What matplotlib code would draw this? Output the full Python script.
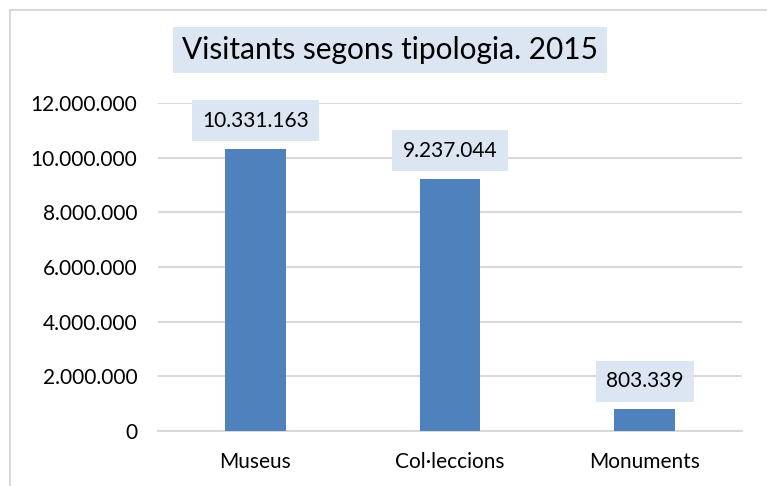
import matplotlib.pyplot as plt
from matplotlib.ticker import FuncFormatter
from matplotlib.lines import Line2D

categories = ['Museus', 'Col·leccions', 'Monuments']
visitants = [10331163, 9237044, 803339]
title = 'Visitants segons tipologia. 2015'

plt.rcParams['font.family'] = ['Lato', 'DejaVu Sans']

bar_color = '#4F81BD'
box_color = '#DCE6F2'
grid_color = '#D9D9D9'


def punts(v, pos=None):
    return '{:,.0f}'.format(v).replace(',', '.')


fig = plt.figure(figsize=(7.67, 4.86), dpi=100)
ax = fig.add_axes([158 / 767, 55 / 486, 584 / 767, 328 / 486])

x = range(len(categories))
ax.bar(x, visitants, width=0.31, color=bar_color, zorder=3)
ax.set_xlim(-0.5, len(categories) - 0.5)
ax.set_ylim(0, 12000000)
ax.set_yticks(range(0, 12000001, 2000000))
ax.yaxis.set_major_formatter(FuncFormatter(punts))
ax.set_xticks(list(x))
ax.set_xticklabels(categories)
ax.grid(axis='y', color=grid_color, linewidth=1.5, zorder=0)
for s in ['top', 'right', 'left']:
    ax.spines[s].set_visible(False)
ax.spines['bottom'].set_color(grid_color)
ax.spines['bottom'].set_linewidth(1.5)
ax.tick_params(axis='both', length=0, labelsize=15, colors='#000000')
ax.tick_params(axis='y', pad=15)
ax.tick_params(axis='x', pad=15)

for xi, v in zip(x, visitants):
    ax.annotate(punts(v), (xi, v), xytext=(0, 20), textcoords='offset points',
                ha='center', va='center', fontsize=15, zorder=4,
                bbox=dict(boxstyle='square,pad=0.5', fc=box_color, ec='none'))

fig.text(390 / 767, 1 - 50 / 486, title, ha='center', va='center', fontsize=21.5,
         bbox=dict(boxstyle='square,pad=0.3', fc=box_color, ec='none'))

# marc del gràfic
fig.add_artist(Line2D([9.5 / 767, 9.5 / 767], [0, 1 - 10.5 / 486], color=grid_color, lw=1.5))
fig.add_artist(Line2D([9.5 / 767, 1], [1 - 10.5 / 486, 1 - 10.5 / 486], color=grid_color, lw=1.5))

fig.savefig('out.png', dpi=100)
